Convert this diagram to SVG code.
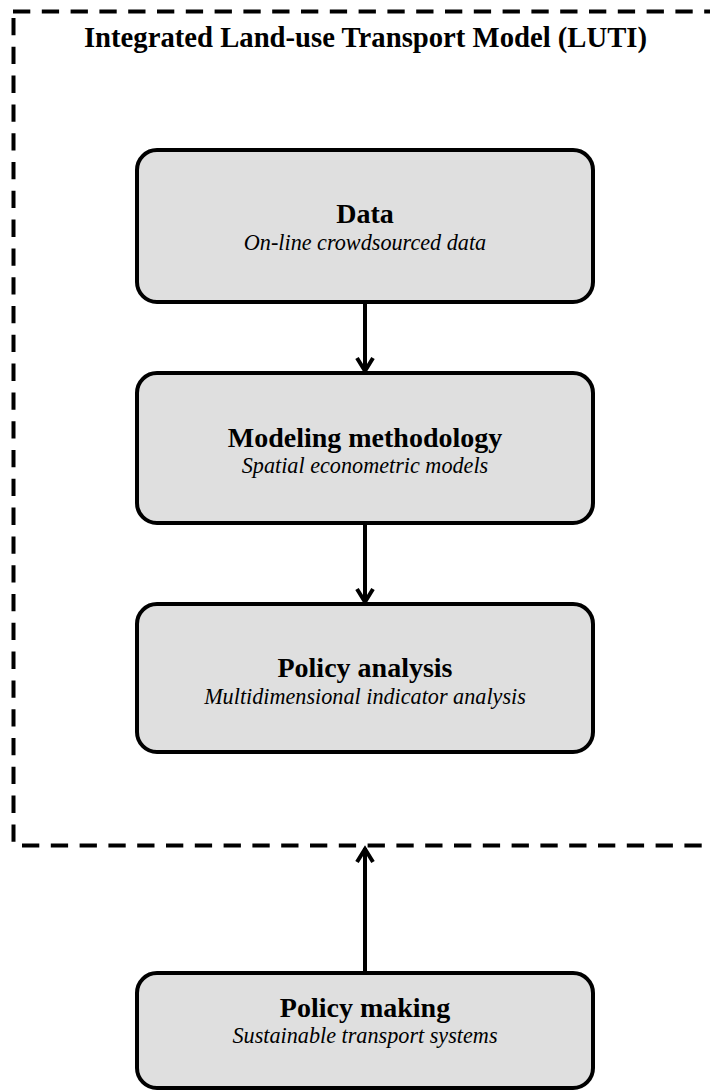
<svg xmlns="http://www.w3.org/2000/svg" width="710" height="1090" viewBox="0 0 710 1090">
<style>
.box{fill:#dfdfdf;stroke:#000;stroke-width:4}
.t{font-family:"Liberation Serif","Times New Roman",serif;font-weight:bold;font-size:28px;text-anchor:middle;fill:#000}
.s{font-family:"Liberation Serif","Times New Roman",serif;font-style:italic;font-size:22.2px;text-anchor:middle;fill:#000}
.c{fill:none;stroke:#000;stroke-width:4}
.d{fill:none;stroke:#000;stroke-width:4;stroke-dasharray:17.3 11.5}
</style>
<g id="luti">
<path class="d" d="M13 11.5 H720"/>
<path class="d" d="M13.5 18 V845"/>
<path class="d" d="M22 845.5 H720"/>
<text class="t" x="365.5" y="47" style="font-size:28.7px">Integrated Land-use Transport Model (LUTI)</text>
</g>
<g id="data">
<rect class="box" x="137" y="150" width="456" height="152" rx="20"/>
<text class="t" x="365" y="223">Data</text>
<text class="s" x="365" y="250">On-line crowdsourced data</text>
</g>
<g id="modeling">
<rect class="box" x="137" y="373" width="456" height="150" rx="20"/>
<text class="t" x="365" y="447">Modeling methodology</text>
<text class="s" x="365" y="473">Spatial econometric models</text>
</g>
<g id="analysis">
<rect class="box" x="137" y="604" width="456" height="148" rx="20"/>
<text class="t" x="365" y="677">Policy analysis</text>
<text class="s" x="365" y="704">Multidimensional indicator analysis</text>
</g>
<g id="making">
<rect class="box" x="137" y="973" width="456" height="115" rx="20"/>
<text class="t" x="365" y="1017">Policy making</text>
<text class="s" x="365" y="1043">Sustainable transport systems</text>
</g>
<g id="connectors">
<path class="c" d="M365 302 V371"/>
<path class="c" d="M357 358 L365 371 L373 358"/>
<path class="c" d="M365 523 V602"/>
<path class="c" d="M357 589 L365 602 L373 589"/>
<path class="c" d="M365 973 V848"/>
<path class="c" d="M357 862 L365 849 L373 862"/>
</g>
</svg>
